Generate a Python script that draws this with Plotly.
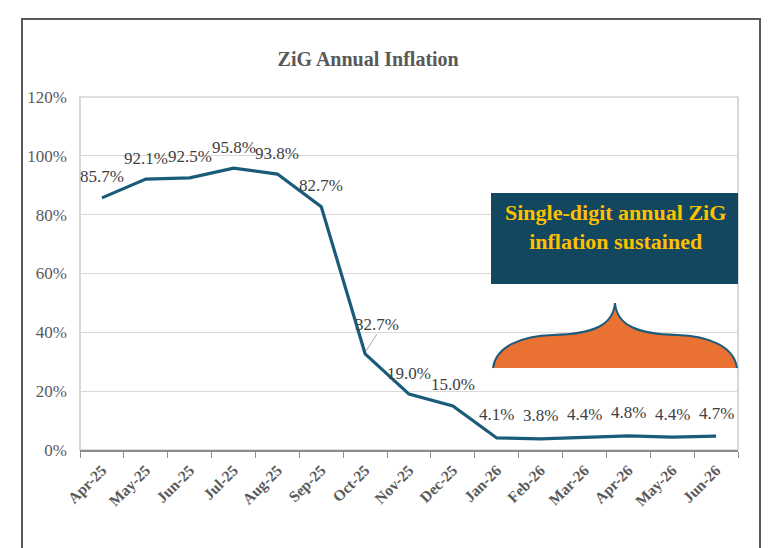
import plotly.graph_objects as go

months = ["Apr-25", "May-25", "Jun-25", "Jul-25", "Aug-25", "Sep-25", "Oct-25", "Nov-25",
          "Dec-25", "Jan-26", "Feb-26", "Mar-26", "Apr-26", "May-26", "Jun-26"]
inflation = [85.7, 92.1, 92.5, 95.8, 93.8, 82.7, 32.7, 19.0, 15.0, 4.1, 3.8, 4.4, 4.8, 4.4, 4.7]
y_ticks = [0, 20, 40, 60, 80, 100, 120]

OFF = 8  # page body margin
W, H = 770 - OFF, 548 - OFF
L, R, T, B = 80 - OFF, 738 - OFF, 97 - OFF, 450 - OFF  # plot area pixels in figure coords


def px(x):
    return (x - OFF - L) / (R - L)


def py(y):
    return (B - (y - OFF)) / (B - T)


SERIF = "Liberation Serif"
LINE_COLOR = "#1b5b7a"

fig = go.Figure()
fig.add_trace(go.Scatter(
    x=months, y=inflation, mode="lines",
    line=dict(color=LINE_COLOR, width=3.2),
    hoverinfo="skip", showlegend=False,
))

# data labels
for i, (m, v) in enumerate(zip(months, inflation)):
    xs, ys = 0, 21
    if m == "Oct-25":
        xs, ys = 12, 29
    elif i >= 9:
        ys = 23
    fig.add_annotation(
        x=m, y=v, text=f"{v:.1f}%", showarrow=False,
        xshift=xs, yshift=ys, yanchor="middle", xanchor="center",
        font=dict(family=SERIF, size=17, color="#404040"),
    )

shapes = []
# outer chart frame
shapes.append(dict(type="rect", xref="paper", yref="paper",
                   x0=px(22), x1=px(760), y0=py(600), y1=py(19),
                   line=dict(color="#595959", width=2), fillcolor="rgba(0,0,0,0)", layer="below"))
# plot area border
shapes.append(dict(type="rect", xref="paper", yref="paper",
                   x0=0, x1=1, y0=0, y1=1,
                   line=dict(color="#bfbfbf", width=1.2), fillcolor="rgba(0,0,0,0)", layer="below"))
# leader line for 32.7%
shapes.append(dict(type="line", xref="paper", yref="paper",
                   x0=px(366), y0=py(351), x1=px(377), y1=py(334),
                   line=dict(color="#a6a6a6", width=1)))
# callout box
shapes.append(dict(type="rect", xref="paper", yref="paper",
                   x0=px(491), x1=px(738), y0=py(284), y1=py(193),
                   line=dict(width=0), fillcolor="#12475f"))


def pt(x, y):
    return f"{px(x):.5f},{py(y):.5f}"


brace_path = (f"M {pt(493,368)} C {pt(496,346)} {pt(522,336)} {pt(553,335)} "
              f"C {pt(592,334)} {pt(613,326)} {pt(615,303)} "
              f"C {pt(617,326)} {pt(638,334)} {pt(677,335)} "
              f"C {pt(708,336)} {pt(734,346)} {pt(737,368)}")
shapes.append(dict(type="path", xref="paper", yref="paper", path=brace_path + " Z",
                   fillcolor="#e97132", line=dict(width=0)))
shapes.append(dict(type="path", xref="paper", yref="paper", path=brace_path,
                   fillcolor="rgba(0,0,0,0)", line=dict(color="#1b5b7a", width=2)))

fig.add_annotation(
    xref="paper", yref="paper", x=px(615), y=py(198), xanchor="center", yanchor="top",
    text="<b>Single-digit annual ZiG<br>inflation sustained</b>", showarrow=False,
    font=dict(family=SERIF, size=22, color="#ffc000"),
)

fig.update_layout(
    width=W, height=H,
    margin=dict(l=L, r=W - R, t=T, b=H - B),
    paper_bgcolor="white", plot_bgcolor="white",
    shapes=shapes,
    title=dict(text="<b>ZiG Annual Inflation</b>", x=px(391), xanchor="center",
               y=1 - (59 - OFF) / H, yanchor="middle",
               font=dict(family=SERIF, size=20, color="#595959")),
    xaxis=dict(
        type="category", tickson="boundaries", ticks="outside", ticklen=6,
        tickcolor="#8c8c8c", tickwidth=1.2,
        showline=True, linecolor="#8c8c8c", linewidth=2.2,
        showgrid=False, tickangle=-45, ticklabelstandoff=3,
        tickfont=dict(family=SERIF, size=15.5, color="#595959", weight="bold"),
        range=[-0.5, len(months) - 0.5],
    ),
    yaxis=dict(
        range=[0, 120], tickvals=y_ticks, ticktext=[f"{v}%" for v in y_ticks],
        showgrid=True, gridcolor="#d9d9d9", gridwidth=1,
        zeroline=False, showline=False, ticks="",
        ticklabelstandoff=12,
        tickfont=dict(family=SERIF, size=17, color="#595959"),
    ),
)

fig.write_html("out.html")
